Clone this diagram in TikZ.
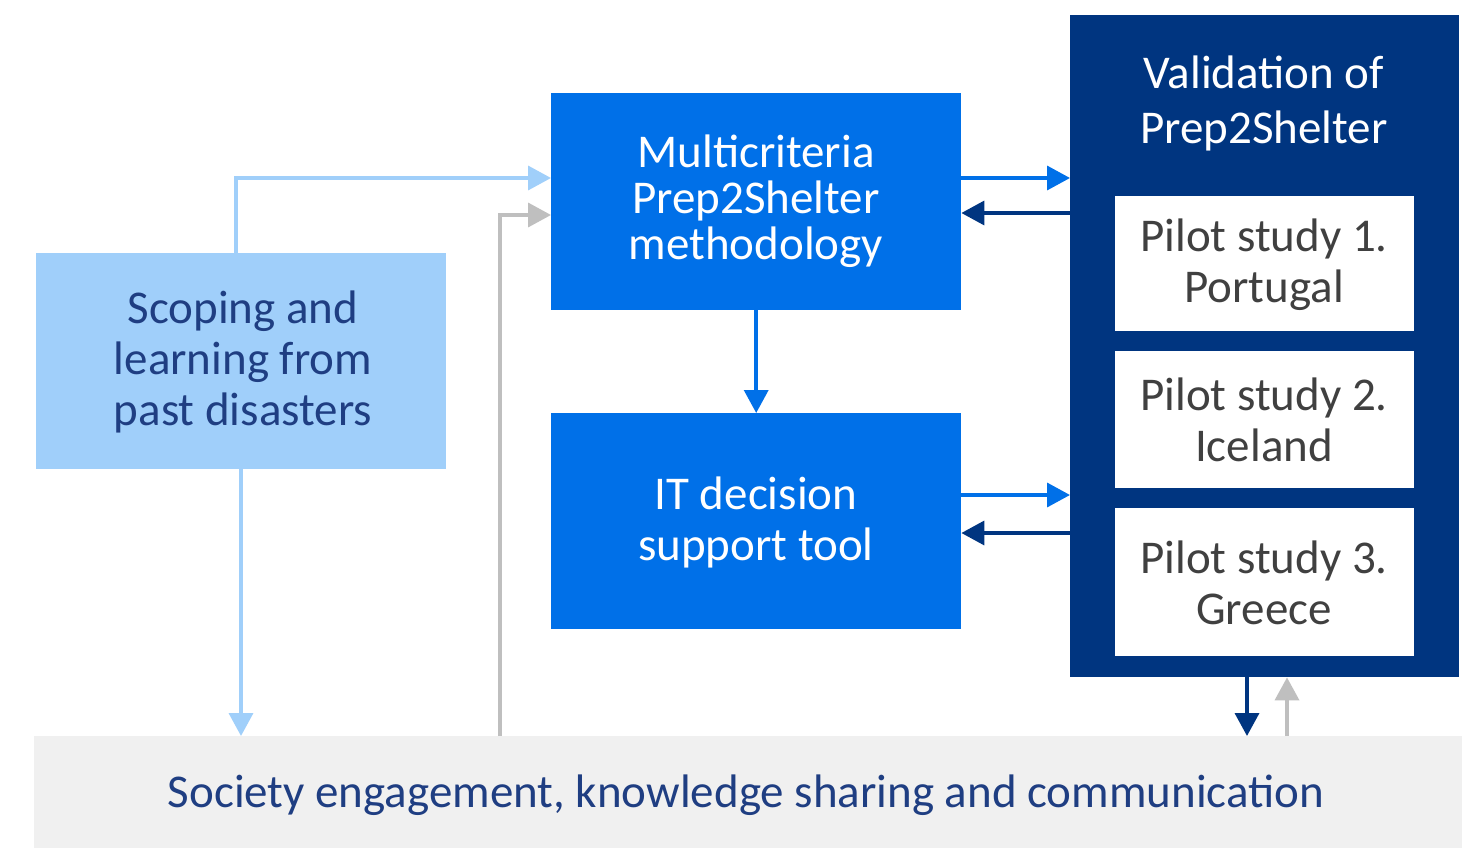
\documentclass[tikz,border=0pt]{standalone}
\usepackage{fontspec}
\setmainfont{Carlito}
\usetikzlibrary{arrows.meta}
\definecolor{lblue}{RGB}{160,207,250}
\definecolor{bblue}{RGB}{0,112,232}
\definecolor{navy}{RGB}{0,53,128}
\definecolor{txtnavy}{RGB}{31,62,130}
\definecolor{garrow}{RGB}{191,191,191}
\definecolor{band}{RGB}{240,240,240}
\definecolor{ptxt}{RGB}{64,64,64}
\tikzset{
  box/.style={draw=none, anchor=north west, inner sep=0pt, align=center},
  lbl/.style={inner sep=0pt, align=center},
  conn/.style={line width=3.6pt, -{Triangle[length=23pt,width=24pt]}},
}
\begin{document}
\begin{tikzpicture}[x=1pt,y=-1pt]
\useasboundingbox (0,0) rectangle (1468,848);
\fill[white] (0,0) rectangle (1468,848);
% bottom band
\node[box, fill=band, minimum width=1428pt, minimum height=112pt] (band) at (34,736) {};
\node[lbl, text=txtnavy, font=\fontsize{47}{46}\selectfont] (bandtxt) at (746,795) {Society engagement, knowledge sharing and communication};
% scoping
\node[box, fill=lblue, minimum width=410pt, minimum height=216pt] (scope) at (36,253) {};
\node[lbl, text=txtnavy, font=\fontsize{47}{51}\selectfont] (scopetxt) at (243,362) {Scoping and\\learning from\\past disasters};
% multicriteria
\node[box, fill=bblue, minimum width=410pt, minimum height=217pt] (multi) at (551,93) {};
\node[lbl, text=white, font=\fontsize{47}{46}\selectfont] (multitxt) at (756,201) {Multicriteria\\Prep2Shelter\\methodology};
% IT tool
\node[box, fill=bblue, minimum width=410pt, minimum height=216pt] (it) at (551,413) {};
\node[lbl, text=white, font=\fontsize{47}{51}\selectfont] (ittxt) at (756,522) {IT decision\\support tool};
% validation
\node[box, fill=navy, minimum width=389pt, minimum height=662pt] (val) at (1070,15) {};
\node[lbl, text=white, font=\fontsize{47}{55}\selectfont] (valtxt) at (1264,103) {Validation of\\Prep2Shelter};
\node[box, fill=white, minimum width=299pt, minimum height=135pt] (p1) at (1115,196) {};
\node[lbl, text=ptxt, font=\fontsize{47}{51}\selectfont] (p1txt) at (1264,265) {Pilot study 1.\\Portugal};
\node[box, fill=white, minimum width=299pt, minimum height=137pt] (p2) at (1115,351) {};
\node[lbl, text=ptxt, font=\fontsize{47}{51}\selectfont] (p2txt) at (1264,420) {Pilot study 2.\\Iceland};
\node[box, fill=white, minimum width=299pt, minimum height=148pt] (p3) at (1115,508) {};
\node[lbl, text=ptxt, font=\fontsize{47}{51}\selectfont] (p3txt) at (1264,583) {Pilot study 3.\\Greece};
% connectors
\coordinate (c1) at (236,178);
\coordinate (c2) at (500,215);
\draw[conn, lblue] (scope.north west -| c1) -- (c1) -- (multi.west |- c1);
\draw[conn, garrow] (band.north west -| c2) -- (c2) -- (multi.west |- c2);
\draw[conn, lblue] (scope.south west -| 241,0) -- (band.north west -| 241,0);
\draw[conn, bblue] (multi.south) -- (it.north);
\draw[conn, bblue] (multi.east |- 0,178) -- (val.west |- 0,178);
\draw[conn, navy] (val.west |- 0,213) -- (multi.east |- 0,213);
\draw[conn, bblue] (it.east |- 0,495) -- (val.west |- 0,495);
\draw[conn, navy] (val.west |- 0,533) -- (it.east |- 0,533);
\draw[conn, navy] (val.south west -| 1247,0) -- (band.north west -| 1247,0);
\draw[conn, garrow] (band.north west -| 1287,0) -- (val.south west -| 1287,0);
\end{tikzpicture}
\end{document}
